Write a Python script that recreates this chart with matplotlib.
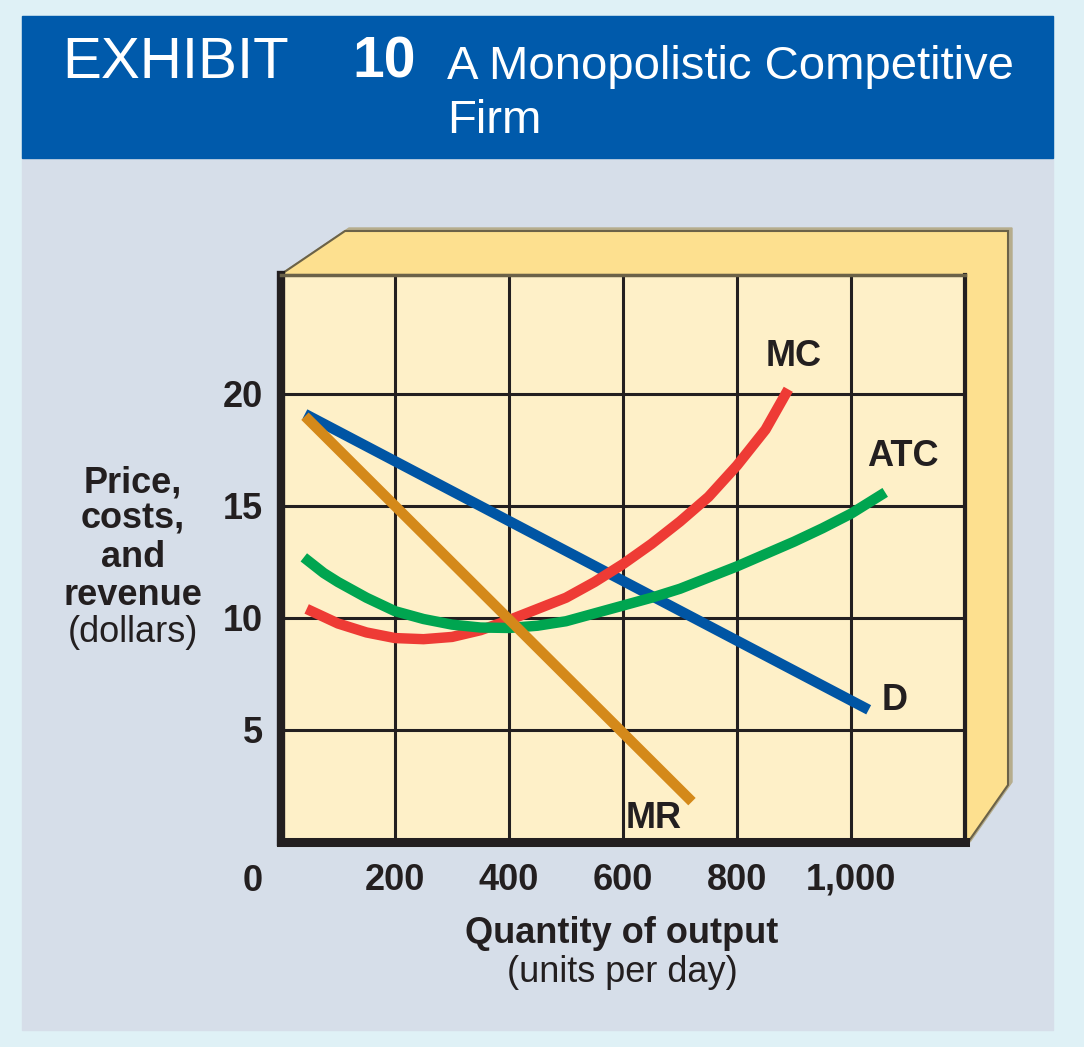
import matplotlib
matplotlib.use("Agg")
import matplotlib.pyplot as plt
from matplotlib.patches import Polygon, Rectangle

# values (quantity in units per day, price in dollars)
d_q = [42, 1031]
d_p = [19.1, 5.9]
mr_q = [42, 721]
mr_p = [19.0, 1.8]
mc_q = [45, 100, 150, 200, 250, 300, 350, 400, 450, 500, 550, 600, 650, 700,
        750, 800, 850, 890]
mc_p = [10.4, 9.75, 9.35, 9.1, 9.05, 9.15, 9.45, 9.9, 10.4, 10.9, 11.6, 12.4,
        13.3, 14.3, 15.4, 16.8, 18.4, 20.2]
atc_q = [40, 75, 100, 150, 200, 250, 300, 350, 400, 450, 500, 550, 600, 650,
         700, 750, 800, 850, 900, 950, 1000, 1060]
atc_p = [12.7, 12.0, 11.6, 10.9, 10.3, 9.95, 9.7, 9.57, 9.55, 9.65, 9.85, 10.2,
         10.55, 10.9, 11.3, 11.8, 12.3, 12.85, 13.4, 14.0, 14.65, 15.6]

x_ticks = [200, 400, 600, 800, 1000]
x_labels = ["200", "400", "600", "800", "1,000"]
y_ticks = [5, 10, 15, 20]
y_labels = ["5", "10", "15", "20"]

INK = "#231f20"
plt.rcParams["font.family"] = ["Liberation Sans", "DejaVu Sans"]

fig = plt.figure(figsize=(10.84, 10.47), dpi=100)
fig.patch.set_facecolor("#dff1f6")

# background in pixel coordinates: panel, title band and the 3D box
bg = fig.add_axes([0, 0, 1, 1], zorder=-1)
bg.set_xlim(0, 1084)
bg.set_ylim(1047, 0)
bg.axis("off")
bg.add_patch(Rectangle((22, 16), 1031, 1014, color="#d6dee9"))
bg.add_patch(Rectangle((22, 16), 1031, 142, color="#005aab"))

box = [(280, 275), (345, 231), (1008, 231), (1008, 785), (966, 845), (966, 275)]
shadow = [(x + 4, y - 3) for x, y in box]
bg.add_patch(Polygon(shadow, closed=True, color="#b6ad8d"))
bg.add_patch(Polygon(box, closed=True, facecolor="#fde08f",
                     edgecolor="#6b6248", linewidth=1.5))

bg.text(62, 78, "EXHIBIT", fontsize=42, color="white", ha="left", va="baseline")
bg.text(352, 78, "10", fontsize=41, fontweight="bold", color="white",
        ha="left", va="baseline")
bg.text(447, 79, "A Monopolistic Competitive", fontsize=34, color="white",
        ha="left", va="baseline")
bg.text(447, 133, "Firm", fontsize=34, color="white", ha="left", va="baseline")

# y label, one line at a time
for txt, yb in [("Price,", 492), ("costs,", 529), ("and", 567), ("revenue", 605)]:
    bg.text(133, yb, txt, fontsize=26, fontweight="bold", color=INK,
            ha="center", va="baseline")
bg.text(133, 642, "(dollars)", fontsize=26, color=INK, ha="center", va="baseline")

bg.text(622, 943, "Quantity of output", fontsize=26, fontweight="bold", color=INK,
        ha="center", va="baseline")
bg.text(622, 982, "(units per day)", fontsize=26, color=INK, ha="center",
        va="baseline")
bg.text(253, 891, "0", fontsize=26, fontweight="bold", color=INK, ha="center",
        va="baseline")

# chart
ax = fig.add_axes([281 / 1084, 1 - 842 / 1047, 684 / 1084, 567 / 1047])
ax.set_facecolor("#fef0c8")
ax.set_xlim(0, 1200)
ax.set_ylim(0, 25.3)

for q in x_ticks:
    ax.axvline(q, color=INK, linewidth=2.2, zorder=1)
for p in y_ticks:
    ax.axhline(p, color=INK, linewidth=2.2, zorder=1)

lw = 7.5
ax.plot(d_q, d_p, color="#0055a4", linewidth=lw, solid_capstyle="butt", zorder=3)
ax.plot(mc_q, mc_p, color="#ee3b35", linewidth=lw, solid_capstyle="butt",
        solid_joinstyle="round", zorder=4)
ax.plot(atc_q, atc_p, color="#00a550", linewidth=lw, solid_capstyle="butt",
        solid_joinstyle="round", zorder=5)
ax.plot(mr_q, mr_p, color="#d4891a", linewidth=lw, solid_capstyle="butt", zorder=6)

lab = dict(fontsize=26, fontweight="bold", color=INK, ha="center", va="center",
           zorder=7)
ax.text(900, 21.65, "MC", **lab)
ax.text(1091, 17.2, "ATC", **lab)
ax.text(1077, 6.3, "D", **lab)
ax.text(653, 1.07, "MR", **lab)

ax.set_xticks(x_ticks, x_labels)
ax.set_yticks(y_ticks, y_labels)
ax.tick_params(length=0, labelsize=26, colors=INK)
ax.tick_params(axis="x", pad=15)
ax.tick_params(axis="y", pad=13)
for t in ax.get_xticklabels() + ax.get_yticklabels():
    t.set_fontweight("bold")

ax.spines["left"].set_linewidth(6)
ax.spines["left"].set_color(INK)
ax.spines["bottom"].set_linewidth(6.5)
ax.spines["bottom"].set_color(INK)
ax.spines["right"].set_linewidth(3)
ax.spines["right"].set_color(INK)
ax.spines["top"].set_linewidth(2.5)
ax.spines["top"].set_color("#6b6248")

fig.savefig("out.png", dpi=100, facecolor=fig.get_facecolor())
